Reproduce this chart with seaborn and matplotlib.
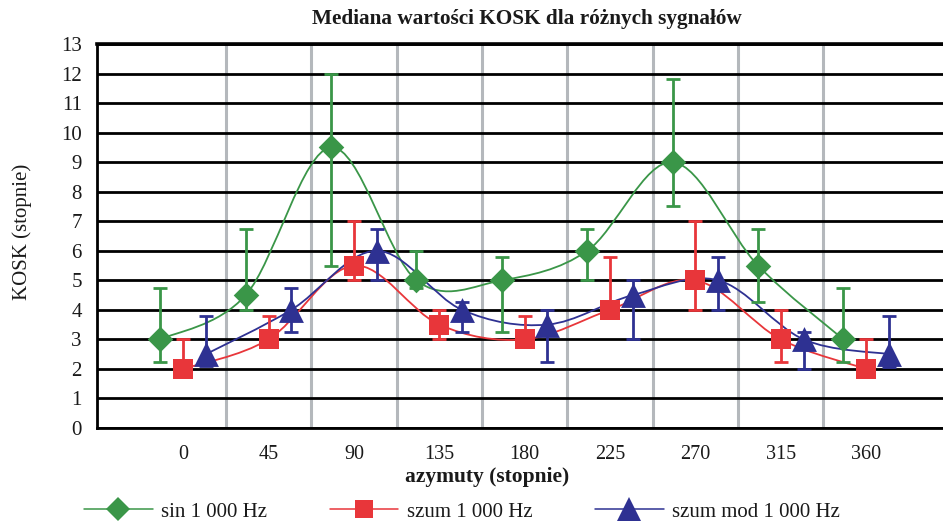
import numpy as np
import pandas as pd
import seaborn as sns
import matplotlib
matplotlib.use("Agg")
import matplotlib.pyplot as plt
from matplotlib.path import Path
from matplotlib.patches import PathPatch
from matplotlib.lines import Line2D

# ---------------- data ----------------
azimuths = [0, 45, 90, 135, 180, 225, 270, 315, 360]
tick_labels = ["0", "45", "90", "135", "180", "225", "270", "315", "360"]

sin_vals = [3.0, 4.5, 9.5, 5.0, 5.0, 6.0, 9.0, 5.5, 3.0]
sin_hi = [4.75, 6.75, 12.0, 6.0, 5.8, 6.75, 11.8, 6.75, 4.75]
sin_lo = [2.25, 4.0, 5.5, 4.75, 3.25, 5.0, 7.5, 4.25, 2.25]

szum_vals = [2.0, 3.0, 5.5, 3.5, 3.0, 4.0, 5.0, 3.0, 2.0]
szum_hi = [3.0, 3.8, 7.0, 4.0, 3.8, 5.8, 7.0, 4.0, 3.0]
szum_lo = [2.0, 2.8, 5.0, 3.0, 2.8, 3.8, 4.0, 2.25, 2.0]

mod_vals = [2.5, 4.0, 6.0, 4.0, 3.5, 4.5, 5.0, 3.0, 2.5]
mod_hi = [3.8, 4.75, 6.75, 4.25, 4.0, 5.0, 5.8, 3.25, 3.8]
mod_lo = [2.1, 3.25, 5.0, 3.25, 2.25, 3.0, 4.0, 2.0, 2.05]

series_names = ["sin 1 000 Hz", "szum 1 000 Hz", "szum mod 1 000 Hz"]
series_offsets = [-12, 0, 12]

# ---------------- style ----------------
sns.set_theme(style="white")
plt.rcParams["font.family"] = ["Liberation Serif", "DejaVu Serif"]

GREEN = "#3a9648"
RED = "#e8363a"
BLUE = "#2e3192"
GRID_GREY = "#b4b8bc"

fig = plt.figure(figsize=(9.43, 5.26), dpi=100)
ax = fig.add_axes([97 / 943, 1 - 428 / 526, 1 - 97 / 943 + 0.002, (428 - 44) / 526])

XMIN, XMAX = -45.4, 401.5
ax.set_xlim(XMIN, XMAX)
ax.set_ylim(0, 13)

# vertical grey separators
for k in range(8):
    ax.axvline(22.5 + 45 * k, color=GRID_GREY, lw=2.2, zorder=0.5)

# horizontal black grid
ax.set_yticks(range(14))
ax.set_yticklabels([str(v) for v in range(14)], fontsize=15)
ax.yaxis.grid(True, color="black", lw=2.0, zorder=0.8)
ax.xaxis.grid(False)
ax.set_axisbelow(True)

ax.set_xticks([XMIN] + azimuths)
ax.set_xticklabels([""] + tick_labels, fontsize=14.5)

ax.spines["right"].set_visible(False)
for s in ["left", "bottom", "top"]:
    ax.spines[s].set_color("black")
    ax.spines[s].set_linewidth(2.0)
ax.spines["top"].set_linewidth(2.6)

ax.tick_params(axis="both", which="both", direction="out", length=7, width=2,
               color="black", labelcolor="#1a1a1a")
ax.tick_params(axis="y", pad=4)
ax.tick_params(axis="x", pad=5)


def smooth_path(xs, ys):
    pts = np.column_stack([xs, ys]).astype(float)
    n = len(pts)
    verts = [pts[0]]
    codes = [Path.MOVETO]
    for i in range(n - 1):
        p0 = pts[i - 1] if i > 0 else pts[i]
        p1 = pts[i]
        p2 = pts[i + 1]
        p3 = pts[i + 2] if i + 2 < n else pts[i + 1]
        c1 = p1 + (p2 - p0) / 6.0
        c2 = p2 - (p3 - p1) / 6.0
        verts += [c1, c2, p2]
        codes += [Path.CURVE4] * 3
    return Path(verts, codes)


series = [
    (sin_vals, sin_lo, sin_hi, GREEN, "D", 170),
    (szum_vals, szum_lo, szum_hi, RED, "s", 200),
    (mod_vals, mod_lo, mod_hi, BLUE, "^", 320),
]

for (vals, lo, hi, col, mk, size), off, name in zip(series, series_offsets, series_names):
    xs = np.array(azimuths, dtype=float) + off
    v = np.array(vals)
    # smoothed connecting line
    ax.add_patch(PathPatch(smooth_path(xs, v), facecolor="none", edgecolor=col,
                           lw=1.3, zorder=3))
    # error bars
    ax.errorbar(xs, v, yerr=[v - np.array(lo), np.array(hi) - v], fmt="none",
                ecolor=col, elinewidth=2.0, capsize=5.3, capthick=2.0, zorder=4)
    df = pd.DataFrame({"az": xs, "val": v})
    sns.scatterplot(data=df, x="az", y="val", marker=mk, s=size, color=col,
                    linewidth=0, ax=ax, zorder=5, legend=False)

ax.set_xlabel("")
ax.set_ylabel("")

# titles / labels
fig.text(527 / 943, 1 - 19 / 526, "Mediana wartości KOSK dla różnych sygnałów",
         ha="center", va="center", fontsize=15.3, fontweight="bold", color="#1a1a1a")
fig.text(487 / 943, 1 - 477 / 526, "azymuty (stopnie)", ha="center", va="center",
         fontsize=15.5, fontweight="bold", color="#1a1a1a")
fig.text(22 / 943, 1 - 232 / 526, "KOSK (stopnie)", ha="center", va="center",
         rotation=90, fontsize=15, color="#1a1a1a")

# legend
handles = [
    Line2D([], [], color=GREEN, lw=1.1, marker="D", markersize=12.5, markeredgewidth=0),
    Line2D([], [], color=RED, lw=1.1, marker="s", markersize=13.5, markeredgewidth=0),
    Line2D([], [], color=BLUE, lw=1.1, marker="^", markersize=17, markeredgewidth=0),
]
leg = fig.legend(handles, series_names, loc="center", bbox_to_anchor=(462 / 943, 1 - 512 / 526),
                 ncol=3, frameon=False, fontsize=15, handlelength=3.3,
                 handletextpad=0.4, columnspacing=3.0)
for t in leg.get_texts():
    t.set_color("#1a1a1a")

fig.savefig("out.png", dpi=100)
